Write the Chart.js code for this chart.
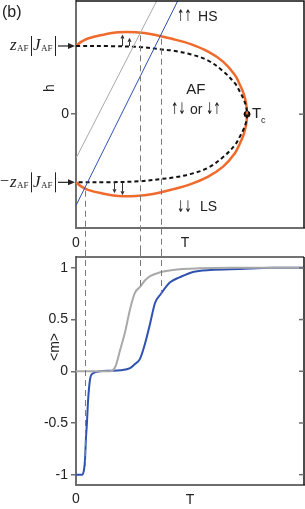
<!DOCTYPE html>
<html><head><meta charset="utf-8">
<script src="https://cdn.jsdelivr.net/npm/chart.js@4.4.1/dist/chart.umd.min.js"></script>
<style>
html,body{margin:0;padding:0;background:#fff;width:305px;height:509px;overflow:hidden}
#top{position:absolute;left:0;top:0;width:305px;height:250px}
#bot{position:absolute;left:0;top:250px;width:305px;height:259px}
</style></head><body>
<canvas id="top" width="305" height="250"></canvas>
<canvas id="bot" width="305" height="259"></canvas>
<script>
// ---------- data: phase diagram (top) ----------
const phaseT     = [0, 0.03, 0.07, 0.15, 0.25, 0.35, 0.45, 0.57, 0.667, 0.77, 0.86, 0.93, 0.96, 0.98, 0.995, 1.0];
const boundaryH  = [1.0, 1.06, 1.11, 1.16, 1.2, 1.2, 1.17, 1.1, 1.03, 0.92, 0.77, 0.57, 0.42, 0.3, 0.15, 0];
const afT        = [0, 0.2, 0.37, 0.5, 0.57, 0.667, 0.77, 0.86, 0.93, 0.96, 0.98, 0.995, 1.0];
const afH        = [1, 0.998, 0.985, 0.95, 0.93, 0.88, 0.79, 0.63, 0.45, 0.32, 0.22, 0.11, 0];
const grayFieldT = [0, 0.5];
const grayFieldH = [-0.647, 1.80];
const blueFieldT = [0, 0.65];
const blueFieldH = [-1.34, 1.94];
const tcT = 1.0;
// transitions (vertical dashed guides)
const transT = [0.053, 0.374, 0.497];
const transH = [-1.08, 1.2, 1.15];
const transM = [-0.93, 0.815, 0.75];
// ---------- data: magnetisation (bottom) ----------
const grayT = [0, 0.1, 0.2, 0.216, 0.234, 0.257, 0.287, 0.316, 0.345, 0.374, 0.404, 0.433, 0.497, 0.567, 0.725, 0.9, 1.1, 1.333];
const grayM = [0, 0, 0, 0.01, 0.06, 0.2, 0.38, 0.6, 0.76, 0.815, 0.88, 0.92, 0.96, 0.98, 0.995, 1, 1, 1];
const blueT = [0, 0.035, 0.047, 0.053, 0.058, 0.064, 0.07, 0.082, 0.1, 0.14, 0.2, 0.26, 0.316, 0.345, 0.374, 0.404, 0.433, 0.462, 0.497, 0.55, 0.608, 0.684, 0.784, 0.96, 1.15, 1.333];
const blueM = [-1, -1, -0.95, -0.85, -0.65, -0.5, -0.3, -0.08, -0.02, 0, 0.005, 0.01, 0.03, 0.07, 0.12, 0.27, 0.46, 0.66, 0.75, 0.86, 0.91, 0.96, 0.98, 0.99, 1, 1];
const mTicks = [-1, -0.5, 0, 0.5, 1];
const mTickLabels = ['-1', '-0.5', '0', '0.5', '1'];

const FONT = '"Liberation Sans", Arial, sans-serif';
const SERIF = '"Liberation Serif", "Times New Roman", serif';
const ARROWFONT = '"DejaVu Sans", sans-serif';
const INK = '#222';
const AXIS = '#6e6e6e';
const ORANGE = '#f06a2c';
const BLUE = '#2f52b0';
const GRAY = '#a9a9a9';
const GUIDE = '#7a7a7a';

function pts(xs, ys) { return xs.map((x, i) => ({ x, y: ys[i] })); }

const orangeLoop = pts(phaseT, boundaryH).concat(
  pts(phaseT.slice(0, -1).reverse(), boundaryH.slice(0, -1).reverse().map(v => -v)));
const afLoop = pts(afT, afH).concat(
  pts(afT.slice(0, -1).reverse(), afH.slice(0, -1).reverse().map(v => -v)));

function arrow(ctx, x1, y1, x2, y2, head, hw, lw) {
  const ang = Math.atan2(y2 - y1, x2 - x1);
  const bx = x2 - head * Math.cos(ang), by = y2 - head * Math.sin(ang);
  ctx.lineWidth = lw;
  ctx.beginPath(); ctx.moveTo(x1, y1); ctx.lineTo(bx, by); ctx.stroke();
  ctx.beginPath();
  ctx.moveTo(x2, y2);
  ctx.lineTo(bx + hw * Math.sin(ang), by - hw * Math.cos(ang));
  ctx.lineTo(bx - hw * Math.sin(ang), by + hw * Math.cos(ang));
  ctx.closePath(); ctx.fill();
}

// spin arrows as narrow text glyphs
function spinText(ctx, str, x, y) {
  ctx.save();
  ctx.translate(x, y); ctx.scale(0.55, 1);
  ctx.font = '16px ' + ARROWFONT; ctx.textAlign = 'left'; ctx.textBaseline = 'middle';
  ctx.fillText(str, 0, 0);
  ctx.restore();
}

function drawZLabel(ctx, y, neg) {
  ctx.save();
  ctx.fillStyle = INK; ctx.strokeStyle = INK;
  ctx.textAlign = 'left'; ctx.textBaseline = 'alphabetic';
  const base = y + 4.5;
  if (neg) { ctx.font = '16px ' + SERIF; ctx.fillText('\u2212', 0, base - 0.5); }
  ctx.font = 'italic 17px ' + SERIF; ctx.fillText('z', 10, base);
  ctx.font = '9px ' + SERIF; ctx.fillText('AF', 17, base + 1);
  ctx.font = 'italic 17px ' + SERIF; ctx.fillText('J', 33, base);
  ctx.font = '9px ' + SERIF; ctx.fillText('AF', 41, base + 1);
  ctx.lineWidth = 1;
  ctx.beginPath(); ctx.moveTo(31.5, y - 10); ctx.lineTo(31.5, y + 10);
  ctx.moveTo(55.5, y - 10); ctx.lineTo(55.5, y + 10); ctx.stroke();
  arrow(ctx, 58, y, 75, y, 7, 3, 1.2);
  ctx.restore();
}

function fixAxis(w, h) {
  return s => {
    if (w !== null) s.width = w;
    if (h !== null) s.height = h;
    s.paddingTop = 0; s.paddingBottom = 0; s.paddingLeft = 0; s.paddingRight = 0;
  };
}

const topDecor = {
  id: 'topDecor',
  afterDraw(chart) {
    const { ctx, chartArea: a, scales: { x: xs, y: ys } } = chart;
    ctx.save();
    // frame top/right
    ctx.strokeStyle = '#111'; ctx.lineWidth = 1.5;
    ctx.beginPath(); ctx.moveTo(a.left, a.top); ctx.lineTo(a.right, a.top); ctx.lineTo(a.right, a.bottom); ctx.stroke();
    // inner right tick at h = 0
    ctx.strokeStyle = AXIS; ctx.lineWidth = 1.5;
    const y0 = ys.getPixelForValue(0);
    ctx.beginPath(); ctx.moveTo(a.right - 5, y0); ctx.lineTo(a.right, y0); ctx.stroke();
    // vertical guides
    ctx.strokeStyle = GUIDE; ctx.lineWidth = 1; ctx.setLineDash([6, 4]);
    transT.forEach((t, i) => {
      const px = Math.round(xs.getPixelForValue(t)) + 0.5;
      ctx.beginPath(); ctx.moveTo(px, ys.getPixelForValue(transH[i]) + 3); ctx.lineTo(px, chart.height); ctx.stroke();
    });
    ctx.setLineDash([]);
    // small spin-flip arrows
    ctx.strokeStyle = '#333'; ctx.fillStyle = '#333';
    [[0.269, 1.0, 1.17], [0.31, 1.0, 1.12], [0.222, -1.0, -1.16], [0.269, -1.0, -1.19]].forEach(([t, h1, h2]) => {
      const px = Math.round(xs.getPixelForValue(t)) + 0.5;
      arrow(ctx, px, ys.getPixelForValue(h1), px, ys.getPixelForValue(h2), 4, 2, 1);
    });
    // texts
    ctx.fillStyle = INK; ctx.textBaseline = 'middle';
    ctx.font = '16px ' + FONT; ctx.textAlign = 'left';
    ctx.fillText('(b)', 2, 13);
    const yHS = ys.getPixelForValue(1.43), yLS = ys.getPixelForValue(-1.37), yAF = ys.getPixelForValue(0.06);
    spinText(ctx, '\u2191\u2191', xs.getPixelForValue(0.59), yHS);
    spinText(ctx, '\u2193\u2193', xs.getPixelForValue(0.59), yLS);
    spinText(ctx, '\u2191\u2193', xs.getPixelForValue(0.555), yAF);
    spinText(ctx, '\u2193\u2191', xs.getPixelForValue(0.76), yAF);
    ctx.font = '14px ' + FONT;
    ctx.fillText('HS', xs.getPixelForValue(0.714), yHS);
    ctx.fillText('LS', xs.getPixelForValue(0.725), yLS);
    ctx.fillText('or', xs.getPixelForValue(0.667), yAF);
    ctx.textAlign = 'center';
    ctx.font = '15px ' + FONT;
    ctx.fillText('AF', xs.getPixelForValue(0.70), ys.getPixelForValue(0.35));
    // Tc
    ctx.textAlign = 'left';
    const tx = xs.getPixelForValue(tcT) + 5;
    ctx.font = '15px ' + FONT; ctx.fillText('T', tx, y0);
    ctx.font = '9px ' + FONT; ctx.fillText('c', tx + 9, y0 + 6);
    // axis labels
    ctx.font = '14px ' + FONT; ctx.textAlign = 'center';
    ctx.fillText('T', 185, 243);
    ctx.save(); ctx.translate(50, 88); ctx.rotate(-Math.PI / 2); ctx.fillText('h', 0, 0); ctx.restore();
    drawZLabel(ctx, ys.getPixelForValue(1), false);
    drawZLabel(ctx, ys.getPixelForValue(-1), true);
    ctx.restore();
  }
};

const botDecor = {
  id: 'botDecor',
  afterDraw(chart) {
    const { ctx, chartArea: a, scales: { x: xs, y: ys } } = chart;
    ctx.save();
    ctx.strokeStyle = '#444'; ctx.lineWidth = 1.5;
    ctx.beginPath(); ctx.moveTo(a.left, a.top); ctx.lineTo(a.right, a.top); ctx.stroke();
    ctx.strokeStyle = '#111';
    ctx.beginPath(); ctx.moveTo(a.right, a.top); ctx.lineTo(a.right, a.bottom); ctx.stroke();
    ctx.strokeStyle = AXIS; ctx.lineWidth = 1.5;
    mTicks.forEach(v => {
      const py = ys.getPixelForValue(v);
      ctx.beginPath(); ctx.moveTo(a.right - 5, py); ctx.lineTo(a.right, py); ctx.stroke();
    });
    ctx.strokeStyle = GUIDE; ctx.lineWidth = 1; ctx.setLineDash([6, 4]);
    transT.forEach((t, i) => {
      const px = Math.round(xs.getPixelForValue(t)) + 0.5;
      ctx.beginPath(); ctx.moveTo(px, 0); ctx.lineTo(px, ys.getPixelForValue(transM[i])); ctx.stroke();
    });
    ctx.setLineDash([]);
    ctx.fillStyle = INK; ctx.textBaseline = 'middle'; ctx.textAlign = 'center';
    ctx.font = '14px ' + FONT;
    ctx.save(); ctx.translate(55, 97); ctx.rotate(-Math.PI / 2); ctx.fillText('<m>', 0, 0); ctx.restore();
    ctx.restore();
  }
};

const lineDs = (data, color, width, extra) => Object.assign({
  data, showLine: true, borderColor: color, backgroundColor: color, borderWidth: width,
  pointRadius: 0, pointHoverRadius: 0, fill: false, tension: 0
}, extra || {});

const common = {
  responsive: false, animation: false, devicePixelRatio: 1,
  events: [],
  plugins: { legend: { display: false }, tooltip: { enabled: false } }
};

new Chart(document.getElementById('top'), {
  type: 'scatter',
  data: {
    datasets: [
      lineDs(pts(grayFieldT, grayFieldH), GRAY, 1),
      lineDs(pts(blueFieldT, blueFieldH), BLUE, 1),
      lineDs(afLoop, '#111', 2, { borderDash: [4, 3], tension: 0.35 }),
      lineDs(orangeLoop, ORANGE, 2.5, { tension: 0.35 }),
      { data: [{ x: tcT, y: 0 }], pointRadius: 3, backgroundColor: '#000', borderColor: '#000', showLine: false }
    ]
  },
  options: Object.assign({}, common, {
    layout: { padding: { top: 1, right: 1, left: 0, bottom: 0 }, autoPadding: false },
    scales: {
      x: {
        type: 'linear', min: 0, max: 1.333,
        afterBuildTicks: s => { s.ticks = [{ value: 0 }]; },
        afterFit: fixAxis(null, 22),
        ticks: { callback: () => '0', padding: 7, font: { family: FONT, size: 14 }, color: INK, maxRotation: 0, autoSkip: false },
        grid: { drawOnChartArea: false, drawTicks: false, color: AXIS },
        border: { color: AXIS, width: 2 }
      },
      y: {
        type: 'linear', min: -1.67, max: 1.66,
        afterBuildTicks: s => { s.ticks = [{ value: 0 }]; },
        afterFit: fixAxis(76, null),
        ticks: { callback: () => '0', padding: 2, font: { family: FONT, size: 14 }, color: INK },
        grid: { drawOnChartArea: false, tickLength: 5, color: AXIS, lineWidth: 1.5 },
        border: { color: AXIS, width: 2 }
      }
    }
  }),
  plugins: [topDecor]
});

new Chart(document.getElementById('bot'), {
  type: 'scatter',
  data: {
    datasets: [
      lineDs(pts(grayT, grayM), GRAY, 2, { cubicInterpolationMode: 'monotone' }),
      lineDs(pts(blueT, blueM), BLUE, 2, { cubicInterpolationMode: 'monotone' })
    ]
  },
  options: Object.assign({}, common, {
    layout: { padding: { top: 7, right: 1, left: 0, bottom: 0 }, autoPadding: false },
    scales: {
      x: {
        type: 'linear', min: 0, max: 1.333,
        afterBuildTicks: s => { s.ticks = [{ value: 0 }]; },
        afterFit: fixAxis(null, 24),
        ticks: { callback: () => '0', padding: 6, font: { family: FONT, size: 14 }, color: INK, maxRotation: 0, autoSkip: false },
        grid: { drawOnChartArea: false, drawTicks: false, color: AXIS },
        border: { color: AXIS, width: 2 },
        title: { display: true, text: 'T', font: { family: FONT, size: 14 }, color: INK, padding: { top: 0, bottom: 0 } }
      },
      y: {
        type: 'linear', min: -1.1, max: 1.105,
        afterBuildTicks: s => { s.ticks = mTicks.map(v => ({ value: v })); },
        afterFit: fixAxis(76, null),
        ticks: { callback: (v) => mTickLabels[mTicks.indexOf(v)], padding: 3, font: { family: FONT, size: 14 }, color: INK },
        grid: { drawOnChartArea: false, tickLength: 5, color: AXIS, lineWidth: 1.5 },
        border: { color: AXIS, width: 2 }
      }
    }
  }),
  plugins: [botDecor]
});
</script></body></html>
